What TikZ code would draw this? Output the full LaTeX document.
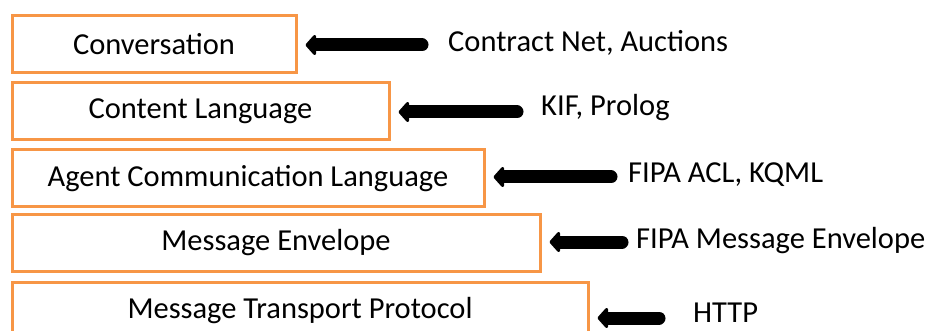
\documentclass[tikz,border=0pt]{standalone}
\usepackage{fontspec}
\setmainfont{Carlito}
\usetikzlibrary{arrows.meta}
\definecolor{layerorange}{HTML}{F79646}

\begin{document}
\begin{tikzpicture}[x=1pt, y=-1pt,
  layer/.style={draw=layerorange, line width=3pt, fill=white,
              minimum height=57pt, inner sep=0pt, text centered,
              font=\fontsize{30.5}{36}\selectfont},
  lbl/.style={anchor=west, inner sep=0pt, font=\fontsize{30.5}{36}\selectfont},
  arr/.style={-{Triangle[length=11pt, width=24pt, round]}, line width=13pt,
              line cap=round, shorten >=8pt}
]
\useasboundingbox (0,0) rectangle (926,331);

\node[layer, minimum width=284pt] (nconv)  at (154,44)  {Conversation};
\node[layer, minimum width=377pt] (ncont)  at (200.5,111) {Content Language};
\node[layer, minimum width=472pt] (nacl)   at (248,178.5) {Agent Communication Language};
\node[layer, minimum width=528pt] (nenv)   at (276,243) {Message Envelope};
\node[layer, minimum width=576pt] (nmtp)   at (300,311) {Message Transport Protocol};

\node[lbl] (lconv) at (448,43)  {Contract Net, Auctions};
\node[lbl] (lcont) at (541,108) {KIF, Prolog};
\node[lbl] (lacl)  at (628,175) {FIPA ACL, KQML};
\node[lbl] (lenv)  at (636,241) {FIPA Message Envelope};
\node[lbl] (lmtp)  at (693,313) {HTTP};

\coordinate (tconv) at (422,45);
\coordinate (tcont) at (517,112);
\coordinate (tacl)  at (611,177);
\coordinate (tenv)  at (622,242);
\coordinate (tmtp)  at (659,318);

\draw[arr] (tconv) -- (tconv -| nconv.east);
\draw[arr] (tcont) -- (tcont -| ncont.east);
\draw[arr] (tacl)  -- (tacl -| nacl.east);
\draw[arr] (tenv)  -- (tenv -| nenv.east);
\draw[arr] (tmtp)  -- (tmtp -| nmtp.east);
\end{tikzpicture}
\end{document}
